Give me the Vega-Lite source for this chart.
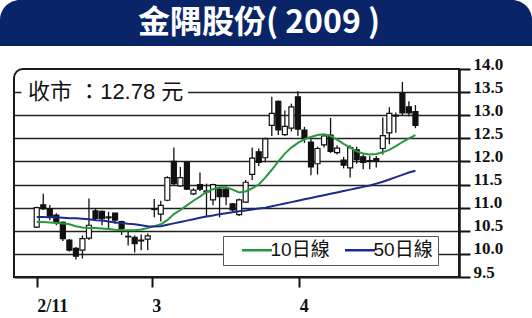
{
  "$schema": "https://vega.github.io/schema/vega-lite/v6.json",
  "padding": 0,
  "background": "white",
  "config": {"view": {"stroke": null}},
  "spacing": 23,
  "bounds": "flush",
  "vconcat": [
    {
      "width": 532,
      "height": 46,
      "data": {"values": [{"title": "金隅股份( 2009 )"}]},
      "layer": [
        {"mark": {"type": "rect", "fill": "#0a2468", "cornerRadiusTopLeft": 20, "cornerRadiusTopRight": 20}, "encoding": {}},
        {"mark": {"type": "text", "fill": "white", "font": "Noto Sans CJK TC", "fontWeight": "bold", "fontSize": 32, "dx": -7, "baseline": "middle", "align": "center"}, "encoding": {"text": {"field": "title"}}}
      ]
    },
    {
      "bounds": "flush",
      "spacing": 13,
      "hconcat": [
        {
          "width": 1,
          "height": 208,
          "data": {"values": [{}]},
          "mark": {"type": "text", "text": ""},
          "encoding": {}
        },
        {
          "width": 445,
          "height": 208,
          "data": {"values": [
            {"i":0,"o":10.58,"h":11.02,"l":10.56,"c":11.00,"ma10":10.69,"ma50":10.80},
            {"i":1,"o":11.06,"h":11.30,"l":10.95,"c":10.98,"ma10":10.69,"ma50":10.80},
            {"i":2,"o":10.98,"h":11.06,"l":10.73,"c":10.80,"ma10":10.68,"ma50":10.79},
            {"i":3,"o":10.84,"h":10.88,"l":10.62,"c":10.68,"ma10":10.67,"ma50":10.79},
            {"i":4,"o":10.68,"h":10.70,"l":10.28,"c":10.33,"ma10":10.66,"ma50":10.78},
            {"i":5,"o":10.30,"h":10.32,"l":10.05,"c":10.08,"ma10":10.64,"ma50":10.77},
            {"i":6,"o":10.12,"h":10.15,"l":9.88,"c":9.95,"ma10":10.60,"ma50":10.77},
            {"i":7,"o":10.08,"h":10.40,"l":9.90,"c":10.33,"ma10":10.57,"ma50":10.76},
            {"i":8,"o":10.34,"h":11.20,"l":10.30,"c":10.62,"ma10":10.56,"ma50":10.75},
            {"i":9,"o":10.93,"h":10.98,"l":10.72,"c":10.77,"ma10":10.56,"ma50":10.73},
            {"i":10,"o":10.92,"h":10.94,"l":10.62,"c":10.76,"ma10":10.55,"ma50":10.72},
            {"i":11,"o":10.80,"h":10.91,"l":10.55,"c":10.78,"ma10":10.54,"ma50":10.70},
            {"i":12,"o":10.88,"h":10.89,"l":10.65,"c":10.73,"ma10":10.52,"ma50":10.68},
            {"i":13,"o":10.70,"h":10.72,"l":10.41,"c":10.55,"ma10":10.51,"ma50":10.67},
            {"i":14,"o":10.38,"h":10.48,"l":10.18,"c":10.37,"ma10":10.51,"ma50":10.65},
            {"i":15,"o":10.36,"h":10.40,"l":10.03,"c":10.22,"ma10":10.51,"ma50":10.64},
            {"i":16,"o":10.30,"h":10.42,"l":10.08,"c":10.28,"ma10":10.53,"ma50":10.62},
            {"i":17,"o":10.32,"h":10.44,"l":10.08,"c":10.39,"ma10":10.56,"ma50":10.60},
            {"i":18,"o":10.98,"h":11.19,"l":10.79,"c":10.96,"ma10":10.60,"ma50":10.59},
            {"i":19,"o":10.86,"h":11.15,"l":10.70,"c":11.05,"ma10":10.64,"ma50":10.60},
            {"i":20,"o":11.16,"h":11.68,"l":11.14,"c":11.65,"ma10":10.73,"ma50":10.63},
            {"i":21,"o":12.00,"h":12.30,"l":11.49,"c":11.52,"ma10":10.86,"ma50":10.66},
            {"i":22,"o":11.47,"h":11.88,"l":11.45,"c":11.65,"ma10":10.95,"ma50":10.69},
            {"i":23,"o":11.98,"h":12.00,"l":11.38,"c":11.40,"ma10":11.05,"ma50":10.72},
            {"i":24,"o":11.30,"h":11.42,"l":11.27,"c":11.38,"ma10":11.15,"ma50":10.75},
            {"i":25,"o":11.50,"h":11.76,"l":11.36,"c":11.40,"ma10":11.24,"ma50":10.78},
            {"i":26,"o":11.36,"h":11.52,"l":10.82,"c":11.34,"ma10":11.34,"ma50":10.81},
            {"i":27,"o":11.17,"h":11.52,"l":11.05,"c":11.50,"ma10":11.40,"ma50":10.83},
            {"i":28,"o":11.40,"h":11.45,"l":10.79,"c":11.24,"ma10":11.44,"ma50":10.86},
            {"i":29,"o":11.40,"h":11.42,"l":11.05,"c":11.24,"ma10":11.44,"ma50":10.88},
            {"i":30,"o":11.08,"h":11.10,"l":10.92,"c":10.95,"ma10":11.39,"ma50":10.90},
            {"i":31,"o":10.85,"h":11.20,"l":10.82,"c":11.17,"ma10":11.33,"ma50":10.92},
            {"i":32,"o":11.12,"h":11.60,"l":11.10,"c":11.55,"ma10":11.35,"ma50":10.94},
            {"i":33,"o":11.72,"h":12.30,"l":11.60,"c":12.07,"ma10":11.42,"ma50":10.96},
            {"i":34,"o":12.21,"h":12.28,"l":11.90,"c":11.98,"ma10":11.50,"ma50":10.98},
            {"i":35,"o":12.08,"h":12.52,"l":11.98,"c":12.49,"ma10":11.65,"ma50":11.00},
            {"i":36,"o":12.78,"h":13.40,"l":12.55,"c":13.04,"ma10":11.82,"ma50":11.03},
            {"i":37,"o":13.30,"h":13.32,"l":12.57,"c":12.68,"ma10":12.00,"ma50":11.06},
            {"i":38,"o":12.58,"h":13.10,"l":12.55,"c":12.76,"ma10":12.17,"ma50":11.09},
            {"i":39,"o":12.72,"h":13.25,"l":12.65,"c":13.18,"ma10":12.30,"ma50":11.12},
            {"i":40,"o":13.40,"h":13.52,"l":12.55,"c":12.70,"ma10":12.40,"ma50":11.15},
            {"i":41,"o":12.68,"h":12.75,"l":12.40,"c":12.50,"ma10":12.48,"ma50":11.18},
            {"i":42,"o":12.42,"h":12.48,"l":11.70,"c":11.88,"ma10":12.53,"ma50":11.21},
            {"i":43,"o":11.95,"h":12.32,"l":11.72,"c":12.28,"ma10":12.57,"ma50":11.24},
            {"i":44,"o":12.36,"h":12.58,"l":12.30,"c":12.55,"ma10":12.59,"ma50":11.27},
            {"i":45,"o":12.57,"h":12.94,"l":12.18,"c":12.22,"ma10":12.55,"ma50":11.30},
            {"i":46,"o":12.19,"h":12.35,"l":12.15,"c":12.29,"ma10":12.47,"ma50":11.33},
            {"i":47,"o":12.03,"h":12.10,"l":11.85,"c":11.92,"ma10":12.38,"ma50":11.36},
            {"i":48,"o":11.86,"h":12.35,"l":11.65,"c":12.30,"ma10":12.30,"ma50":11.39},
            {"i":49,"o":12.25,"h":12.32,"l":11.95,"c":12.04,"ma10":12.22,"ma50":11.42},
            {"i":50,"o":12.10,"h":12.15,"l":11.83,"c":11.98,"ma10":12.17,"ma50":11.45},
            {"i":51,"o":12.02,"h":12.12,"l":11.83,"c":12.00,"ma10":12.15,"ma50":11.48},
            {"i":52,"o":12.06,"h":12.12,"l":11.87,"c":12.00,"ma10":12.16,"ma50":11.52},
            {"i":53,"o":12.28,"h":12.95,"l":12.15,"c":12.56,"ma10":12.20,"ma50":11.56},
            {"i":54,"o":12.62,"h":13.17,"l":12.37,"c":13.04,"ma10":12.25,"ma50":11.61},
            {"i":55,"o":12.98,"h":13.06,"l":12.62,"c":13.00,"ma10":12.33,"ma50":11.66},
            {"i":56,"o":13.48,"h":13.72,"l":13.00,"c":13.05,"ma10":12.42,"ma50":11.71},
            {"i":57,"o":13.18,"h":13.30,"l":12.98,"c":13.05,"ma10":12.50,"ma50":11.76},
            {"i":58,"o":13.08,"h":13.22,"l":12.72,"c":12.78,"ma10":12.57,"ma50":11.80}
          ]},
          "layer": [
            {
              "data": {"values": [{}]},
              "mark": {"type": "rect", "fill": "transparent", "stroke": "#1a1a1a", "strokeWidth": 2, "cornerRadiusTopLeft": 9},
              "encoding": {}
            },
            {
              "mark": {"type": "rule", "stroke": "#111", "strokeWidth": 1.3},
              "encoding": {
                "x": {"field": "i", "type": "quantitative",
                  "scale": {"domain": [-3.48, 64.67], "nice": false, "zero": false, "padding": 0},
                  "axis": {"orient": "bottom", "values": [0, 17.6, 40.2], "tickCount": 20,
                    "labelExpr": "datum.value < 5 ? '2/11' : (datum.value < 30 ? '3' : '4')",
                    "grid": false, "domain": true, "domainColor": "#111", "domainWidth": 2,
                    "ticks": true, "tickSize": 10, "tickWidth": 2, "tickColor": "#111",
                    "labelFont": "Liberation Serif", "labelFontSize": 18, "labelFontWeight": "bold", "labelColor": "#111",
                    "labelAlign": "left", "labelBaseline": "top", "labelPadding": 10, "labelFlush": false, "labelOverlap": false, "title": null}},
                "y": {"field": "l", "type": "quantitative",
                  "scale": {"domain": [9.5, 14.0], "nice": false, "zero": false},
                  "axis": {"orient": "right", "values": [9.5, 10, 10.5, 11, 11.5, 12, 12.5, 13, 13.5, 14], "tickCount": 20, "format": ".1f",
                    "grid": true, "gridColor": "#222", "gridWidth": 1.5,
                    "gridOpacity": {"condition": {"test": "datum.value <= 9.5 || datum.value >= 14", "value": 0}, "value": 1},
                    "domain": true, "domainColor": "#111", "domainWidth": 2.5,
                    "ticks": true, "tickSize": 11, "tickWidth": 2, "tickColor": "#111",
                    "labelFont": "Liberation Serif", "labelFontSize": 17, "labelFontWeight": "bold", "labelColor": "#111",
                    "labelAlign": "left", "labelBaseline": "alphabetic", "labelPadding": 3, "labelOverlap": false, "labelFlush": false, "title": null}},
                "y2": {"field": "h"}
              }
            },
            {
              "mark": {"type": "bar", "width": 5, "stroke": "#111", "strokeWidth": 1.2},
              "encoding": {
                "x": {"field": "i", "type": "quantitative"},
                "y": {"field": "o", "type": "quantitative"},
                "y2": {"field": "c"},
                "fill": {"condition": {"test": "datum.c > datum.o", "value": "white"}, "value": "#111"}
              }
            },
            {
              "transform": [{"fold": ["ma10", "ma50"], "as": ["k", "v"]}],
              "mark": {"type": "line", "strokeWidth": 2},
              "encoding": {
                "x": {"field": "i", "type": "quantitative"},
                "y": {"field": "v", "type": "quantitative"},
                "color": {"field": "k", "type": "nominal",
                  "scale": {"domain": ["ma10", "ma50"], "range": ["#27983b", "#1b2a8c"]},
                  "legend": {"orient": "none", "legendX": 223, "legendY": 236, "direction": "horizontal", "title": null,
                    "labelExpr": "datum.label === 'ma10' ? '10日線' : '50日線'",
                    "symbolType": "M-3,0H3", "symbolSize": 100, "symbolStrokeWidth": 2.5,
                    "labelFont": "Liberation Sans, Noto Sans CJK TC", "labelFontSize": 19, "labelColor": "#111",
                    "padding": 4.5, "strokeColor": "#555", "fillColor": "white",
                    "columnPadding": 0, "labelOffset": 4, "symbolOffset": 20}}
              }
            },
            {
              "data": {"values": [{"t": "收市 ：12.78 元"}]},
              "mark": {"type": "rect", "fill": "white"},
              "encoding": {
                "x": {"datum": -2.35, "type": "quantitative"},
                "x2": {"datum": 23.2},
                "y": {"datum": 13.36, "type": "quantitative"},
                "y2": {"datum": 13.64}
              }
            },
            {
              "data": {"values": [{"t": "收市 ：12.78 元"}]},
              "mark": {"type": "text", "align": "left", "baseline": "middle", "font": "Liberation Sans, Noto Sans CJK TC", "fontSize": 22, "fill": "#111"},
              "encoding": {
                "x": {"datum": -1.33, "type": "quantitative"},
                "y": {"datum": 13.5, "type": "quantitative"},
                "text": {"field": "t"}
              }
            }
          ]
        }
      ]
    }
  ]
}
